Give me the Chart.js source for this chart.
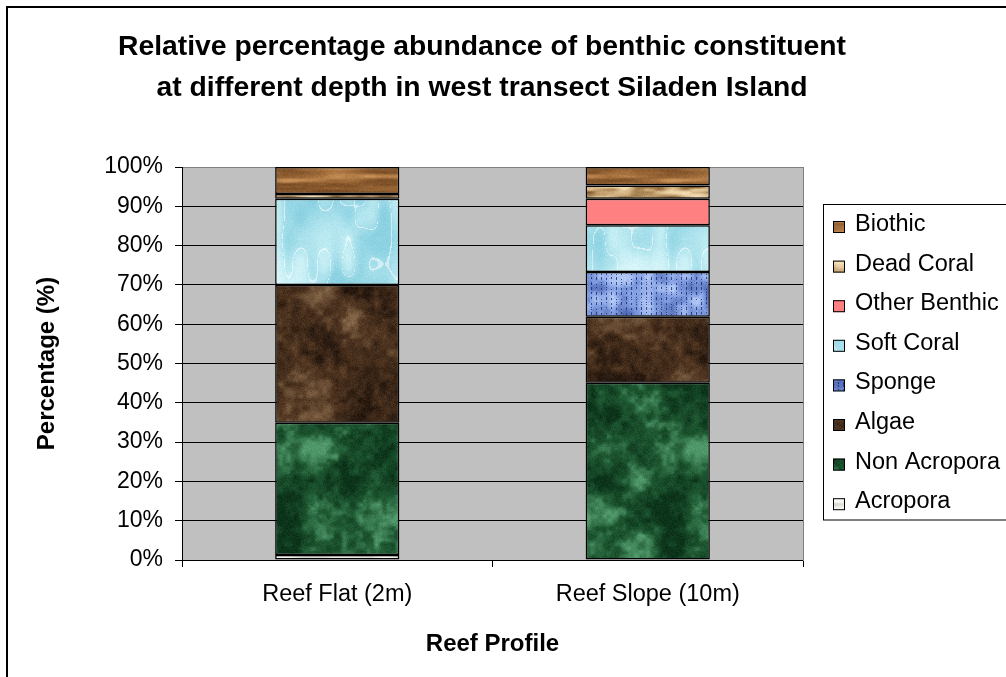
<!DOCTYPE html>
<html>
<head>
<meta charset="utf-8">
<title>Benthic constituent - west transect Siladen Island</title>
<script src="https://cdn.jsdelivr.net/npm/chart.js@4.4.1/dist/chart.umd.min.js"></script>
<style>
    html, body { margin: 0; padding: 0; background: #ffffff; }
    #wrap { width: 1006px; height: 677px; position: relative; }
</style>
</head>
<body>
<div id="wrap"><canvas id="chart" width="1006" height="677"></canvas></div>
<script>
// values (percent of transect)
const categories = ['Reef Flat (2m)', 'Reef Slope (10m)'];
const acropora = [1.3, 0];
const nonAcropora = [33.6, 45.1];
const algae = [35.1, 16.8];
const sponge = [0, 11.4];
const softCoral = [21.9, 11.9];
const otherBenthic = [0, 6.7];
const deadCoral = [1.2, 3.4];
const biothic = [6.9, 4.7];

const FONT = "'Liberation Sans', Arial, sans-serif";

const canvas = document.getElementById('chart');
const ctx = canvas.getContext('2d');

// small seeded generator, only used for the bar textures
function lcg(seed) {
    let s = seed >>> 0;
    return function () {
        s = (s * 1664525 + 1013904223) >>> 0;
        return s / 4294967296;
    };
}

function noiseField(size, cx, cy, rnd) {
    const gw = size / cx, gh = size / cy;
    const grid = [];
    for (let i = 0; i < gw * gh; i++) grid.push(rnd());
    const g = (i, j) => grid[(j % gh) * gw + (i % gw)];
    return function (x, y) {
        const fx = x / cx, fy = y / cy;
        const x0 = Math.floor(fx), y0 = Math.floor(fy);
        let tx = fx - x0, ty = fy - y0;
        tx = tx * tx * (3 - 2 * tx);
        ty = ty * ty * (3 - 2 * ty);
        const a = g(x0, y0), b = g(x0 + 1, y0), c = g(x0, y0 + 1), d = g(x0 + 1, y0 + 1);
        return (a + (b - a) * tx) * (1 - ty) + (c + (d - c) * tx) * ty;
    };
}

function mix(c1, c2, t) {
    return [c1[0] + (c2[0] - c1[0]) * t, c1[1] + (c2[1] - c1[1]) * t, c1[2] + (c2[2] - c1[2]) * t];
}

function makeTexture(spec) {
    const size = 192;
    const tile = document.createElement('canvas');
    tile.width = size;
    tile.height = size;
    const tctx = tile.getContext('2d');
    const img = tctx.createImageData(size, size);
    const rnd = lcg(spec.seed);
    const fields = spec.cells.map(c => ({ f: noiseField(size, c[0], c[1], rnd), w: c[2] }));
    const wsum = spec.cells.reduce((s, c) => s + c[2], 0);
    for (let y = 0; y < size; y++) {
        for (let x = 0; x < size; x++) {
            let n = 0;
            fields.forEach(o => n += o.f(x, y) * o.w);
            n = n / wsum;
            n = Math.min(1, Math.max(0, 0.5 + (n - 0.5) * spec.contrast));
            let col = n < 0.5 ? mix(spec.dark, spec.base, n * 2) : mix(spec.base, spec.light, (n - 0.5) * 2);
            if (spec.vein) {
                const v = Math.abs(fields[1].f(x, y) - 0.5);
                if (v < 0.02) col = mix(col, [255, 255, 255], 0.5);
            }
            if (spec.weave) {
                const cx = x % 5, cy = y % 5;
                if (cx === 0 && cy < 3 && rnd() > 0.3) col = mix(col, spec.weave, 0.8);
            }
            const grain = (rnd() - 0.5) * spec.grain;
            const p = (y * size + x) * 4;
            img.data[p] = Math.max(0, Math.min(255, col[0] + grain));
            img.data[p + 1] = Math.max(0, Math.min(255, col[1] + grain));
            img.data[p + 2] = Math.max(0, Math.min(255, col[2] + grain));
            img.data[p + 3] = 255;
        }
    }
    tctx.putImageData(img, 0, 0);
    return ctx.createPattern(tile, 'repeat');
}

const textures = {
    biothic: makeTexture({ seed: 11, base: [160, 108, 58], light: [205, 150, 92], dark: [118, 74, 36],
        cells: [[48, 4, 2], [96, 8, 1], [16, 2, 0.6]], contrast: 1.6, grain: 14 }),
    deadCoral: makeTexture({ seed: 23, base: [200, 165, 115], light: [242, 220, 180], dark: [130, 92, 50],
        cells: [[24, 6, 2], [12, 3, 1]], contrast: 1.8, grain: 16 }),
    softCoral: makeTexture({ seed: 37, base: [196, 238, 244], light: [236, 252, 253], dark: [140, 210, 226],
        cells: [[48, 48, 2], [12, 24, 1]], contrast: 1.5, grain: 10, vein: true }),
    sponge: makeTexture({ seed: 41, base: [132, 160, 226], light: [176, 198, 244], dark: [84, 110, 184],
        cells: [[12, 12, 2], [6, 6, 1]], contrast: 1.4, grain: 18, weave: [28, 44, 112] }),
    algae: makeTexture({ seed: 53, base: [78, 52, 32], light: [130, 100, 70], dark: [38, 24, 14],
        cells: [[32, 32, 2], [8, 8, 1], [4, 4, 0.6]], contrast: 1.7, grain: 18 }),
    nonAcropora: makeTexture({ seed: 67, base: [30, 88, 50], light: [80, 152, 106], dark: [12, 52, 26],
        cells: [[32, 32, 2], [8, 8, 1], [4, 4, 0.6]], contrast: 1.8, grain: 16 }),
    acropora: makeTexture({ seed: 79, base: [240, 240, 236], light: [255, 255, 255], dark: [214, 214, 206],
        cells: [[16, 4, 1]], contrast: 1.2, grain: 6 })
};

function barSet(label, data, fill) {
    return {
        label: label,
        data: data,
        backgroundColor: fill,
        borderColor: '#000000',
        borderWidth: 1.5,
        borderSkipped: false,
        categoryPercentage: 0.4,
        barPercentage: 1.0
    };
}

// grey plot area, outer frame and the boxed legend
const framePlugin = {
    id: 'frame',
    beforeDraw(chart) {
        const c = chart.ctx;
        const a = chart.chartArea;
        c.save();
        c.fillStyle = '#c0c0c0';
        c.fillRect(a.left, a.top, a.right - a.left, a.bottom - a.top);
        c.restore();
    },
    afterDraw(chart) {
        const c = chart.ctx;
        c.save();
        c.strokeStyle = '#000000';
        c.lineWidth = 2;
        c.strokeRect(7, 7, 2000, 2000);

        // legend box
        c.lineWidth = 1;
        c.fillStyle = '#ffffff';
        c.fillRect(823.5, 204.5, 400, 315.5);
        c.strokeRect(823.5, 204.5, 400, 315.5);

        const items = chart.data.datasets.slice().reverse();
        c.font = '23.5px ' + FONT;
        c.textBaseline = 'middle';
        c.textAlign = 'left';
        items.forEach((ds, i) => {
            const y = 224.5 + i * 39.6;
            c.fillStyle = ds.backgroundColor;
            c.fillRect(833, y - 3.5, 12, 12);
            c.strokeStyle = '#000000';
            c.strokeRect(833.5, y - 3, 11, 11);
            c.fillStyle = '#000000';
            c.fillText(ds.label, 855, y);
        });
        c.restore();
    }
};

new Chart(canvas, {
    type: 'bar',
    data: {
        labels: categories,
        datasets: [
            barSet('Acropora', acropora, textures.acropora),
            barSet('Non Acropora', nonAcropora, textures.nonAcropora),
            barSet('Algae', algae, textures.algae),
            barSet('Sponge', sponge, textures.sponge),
            barSet('Soft Coral', softCoral, textures.softCoral),
            barSet('Other Benthic', otherBenthic, '#ff8080'),
            barSet('Dead Coral', deadCoral, textures.deadCoral),
            barSet('Biothic', biothic, textures.biothic)
        ]
    },
    options: {
        responsive: false,
        animation: false,
        devicePixelRatio: 1,
        layout: { padding: { left: 10, right: 52, top: 0, bottom: 0 } },
        plugins: {
            legend: { display: false },
            tooltip: { enabled: false },
            title: {
                display: true,
                text: ['Relative percentage abundance of benthic constituent',
                       'at different depth in west transect Siladen Island'],
                color: '#000000',
                font: { family: FONT, size: 28.3, weight: 'bold', lineHeight: '41px' },
                padding: { top: 27, bottom: 58 }
            }
        },
        scales: {
            x: {
                stacked: true,
                grid: { display: true, drawOnChartArea: false, drawTicks: true, tickLength: 7, color: '#000000', offset: true },
                border: { display: true, color: '#000000', width: 1 },
                ticks: { color: '#000000', font: { family: FONT, size: 23.5 }, padding: 13, maxRotation: 0 },
                title: {
                    display: true,
                    text: 'Reef Profile',
                    color: '#000000',
                    font: { family: FONT, size: 24, weight: 'bold' },
                    padding: { top: 0, bottom: 18 }
                },
                afterFit(scale) { scale.height = 117; }
            },
            y: {
                stacked: true,
                min: 0,
                max: 100,
                grid: {
                    color: (c) => (c.tick && c.tick.value === 100) ? '#808080' : '#000000',
                    tickColor: '#000000',
                    tickLength: 7,
                    lineWidth: 1
                },
                border: { display: true, color: '#000000', width: 1 },
                ticks: {
                    stepSize: 10,
                    autoSkip: false,
                    color: '#000000',
                    font: { family: FONT, size: 23 },
                    padding: 12,
                    callback: (v) => v + '%'
                },
                title: {
                    display: true,
                    text: 'Percentage (%)',
                    color: '#000000',
                    font: { family: FONT, size: 24, weight: 'bold' },
                    padding: { top: 22.6, bottom: 0 }
                },
                afterFit(scale) { scale.width = 172; }
            },
            edge: {
                type: 'linear',
                position: 'right',
                display: true,
                grid: { display: false },
                ticks: { display: false },
                border: { display: true, color: '#808080', width: 1 },
                afterFit(scale) { scale.width = 151; }
            }
        }
    },
    plugins: [framePlugin]
});
</script>
</body>
</html>
